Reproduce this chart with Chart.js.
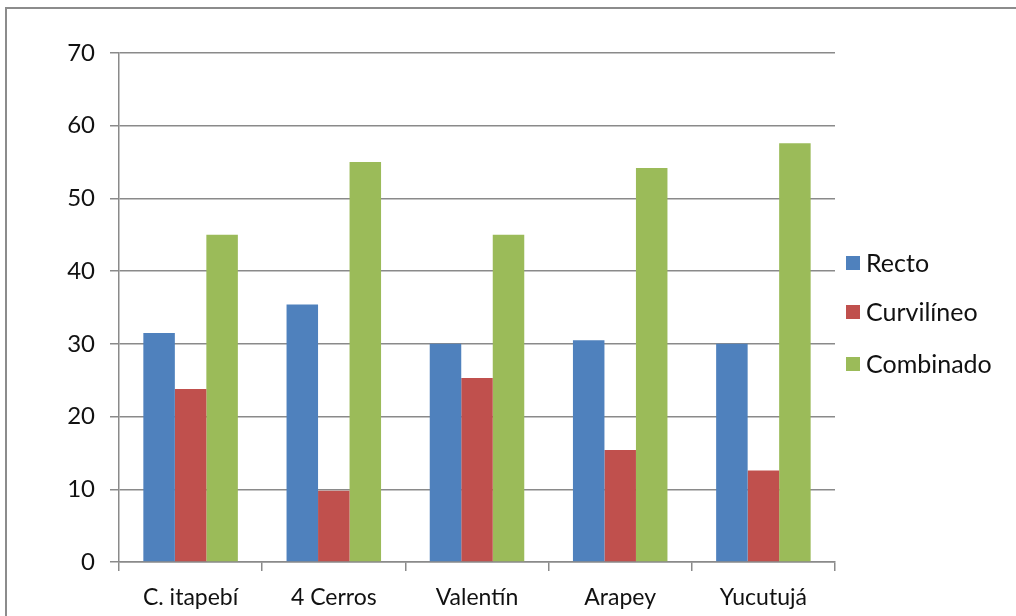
<!DOCTYPE html>
<html>
<head>
<meta charset="utf-8">
<script src="https://cdn.jsdelivr.net/npm/chart.js@4"></script>
<style>
  body { margin: 0; background: #fff; }
  #frame { position: absolute; left: 0; top: 0; width: 1016px; height: 616px; }
</style>
</head>
<body>
<div id="frame"><canvas id="chart" width="1016" height="616"></canvas></div>
<script>
// Data
const categories = ['C. itapebí', '4 Cerros', 'Valentín', 'Arapey', 'Yucutujá'];
const recto = [31.5, 35.4, 30.0, 30.5, 30.0];
const curvilineo = [23.8, 9.8, 25.3, 15.4, 12.6];
const combinado = [45.0, 55.0, 45.0, 54.2, 57.6];
const seriesNames = ['Recto', 'Curvilíneo', 'Combinado'];

const colors = ['#4F81BD', '#C0504D', '#9BBB59'];
const FONT = 'Lato, Carlito, "Open Sans", sans-serif';
const textColor = '#111';
const gridColor = '#8a8a8a';

// frame border + legend drawn by hand so they sit where the reference has them
const framePlugin = {
    id: 'frame',
    beforeDraw(chart) {
        const c = chart.ctx;
        c.save();
        c.strokeStyle = '#8c8c8c';
        c.lineWidth = 2;
        c.beginPath();
        c.moveTo(6, 616);
        c.lineTo(6, 8);
        c.lineTo(1016, 8);
        c.stroke();
        c.restore();
    },
    afterDraw(chart) {
        const c = chart.ctx;
        const rows = [263, 312, 364];
        c.save();
        c.font = '25px ' + FONT;
        c.textBaseline = 'middle';
        chart.data.datasets.forEach((ds, i) => {
            c.fillStyle = ds.backgroundColor;
            c.fillRect(846, rows[i] - 7, 14, 14);
            c.fillStyle = textColor;
            c.fillText(ds.label, 866, rows[i] + 1);
        });
        c.restore();
    }
};

new Chart(document.getElementById('chart'), {
    type: 'bar',
    data: {
        labels: categories,
        datasets: [
            { label: seriesNames[0], data: recto, backgroundColor: colors[0] },
            { label: seriesNames[1], data: curvilineo, backgroundColor: colors[1] },
            { label: seriesNames[2], data: combinado, backgroundColor: colors[2] }
        ]
    },
    options: {
        responsive: false,
        animation: false,
        layout: { padding: { left: 20, right: 181, top: 53, bottom: 0 } },
        datasets: {
            bar: { categoryPercentage: 0.66, barPercentage: 1.0 }
        },
        scales: {
            x: {
                grid: {
                    display: true,
                    drawOnChartArea: false,
                    drawTicks: true,
                    tickLength: 9,
                    color: gridColor,
                    lineWidth: 1.5
                },
                border: { color: gridColor, width: 1.5 },
                ticks: {
                    color: textColor,
                    font: { family: FONT, size: 23 },
                    padding: 13
                },
                afterFit(scale) { scale.height = 616 - 562; }
            },
            y: {
                min: 0,
                max: 70,
                ticks: {
                    stepSize: 10,
                    color: textColor,
                    font: { family: FONT, size: 24 },
                    padding: 15
                },
                grid: {
                    color: gridColor,
                    lineWidth: 1.5,
                    tickLength: 9
                },
                border: { color: gridColor, width: 1.5 },
                afterFit(scale) { scale.width = 119 - 20; }
            }
        },
        plugins: {
            legend: { display: false },
            tooltip: { enabled: false }
        }
    },
    plugins: [framePlugin]
});
</script>
</body>
</html>
